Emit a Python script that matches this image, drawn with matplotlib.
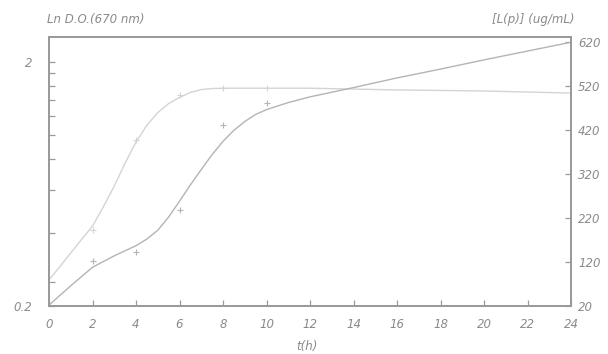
import matplotlib
matplotlib.use("Agg")
import matplotlib.pyplot as plt
from matplotlib.ticker import FixedLocator, NullFormatter

# growth curve (left axis, Ln D.O. at 670 nm, log scale)
od_t = [2, 4, 6, 8, 10]
od_pts = [0.41, 0.96, 1.46, 1.56, 1.56]
od_fit_t = [0, 0.5, 1, 1.5, 2, 2.5, 3, 3.5, 4, 4.5, 5, 5.5, 6, 6.5, 7, 7.5, 8,
            10, 12, 16, 20, 24]
od_fit = [0.256, 0.29, 0.33, 0.375, 0.425, 0.51, 0.62, 0.77, 0.94, 1.1, 1.24,
          1.35, 1.43, 1.50, 1.54, 1.555, 1.56, 1.56, 1.56, 1.535, 1.52, 1.49]

# product curve (right axis, ug/mL)
p_t = [2, 4, 6, 8, 10]
p_pts = [122, 142, 239, 432, 482]
p_fit_t = [0, 1, 2, 3, 4, 4.5, 5, 5.5, 6, 6.5, 7, 7.5, 8, 8.5, 9, 9.5, 10,
           11, 12, 14, 16, 18, 20, 22, 24]
p_fit = [22, 66, 108, 134, 157, 172, 192, 222, 258, 295, 330, 364, 394, 419,
         439, 455, 466, 482, 495, 516, 538, 558, 579, 599, 619]

x_ticks = list(range(0, 25, 2))
right_ticks = [20, 120, 220, 320, 420, 520, 620]
left_minor = [0.25, 0.4, 0.6, 0.8, 1.0, 1.2, 1.4, 1.6, 1.8]

gray = "#9a9a9a"
light = "#d4d4d4"
txt = "#8a8a8a"
font = dict(style="italic", color=txt, fontsize=8.5)

fig = plt.figure(figsize=(6.08, 3.54), dpi=100)
ax = fig.add_axes([0.0806, 0.1356, 0.8586, 0.76])
ax2 = ax.twinx()

ax.plot(od_fit_t, od_fit, color=light, lw=1.0)
ax.plot(od_t, od_pts, "+", color=light, ms=4, mew=0.8)
ax.set_yscale("log")
ax.set_ylim(0.2, 2.53)
ax.set_xlim(0, 24)
ax.yaxis.set_major_locator(FixedLocator([0.2, 2]))
ax.yaxis.set_minor_locator(FixedLocator(left_minor))
ax.yaxis.set_minor_formatter(NullFormatter())
ax.set_yticklabels(["0.2", "2"], **font)
ax.set_xticks(x_ticks)
ax.set_xticklabels([str(v) for v in x_ticks], **font)

ax2.plot(p_fit_t, p_fit, color="#b4b4b4", lw=1.0)
ax2.plot(p_t, p_pts, "+", color="#b4b4b4", ms=4, mew=0.8)
ax2.set_ylim(20, 631)
ax2.set_yticks(right_ticks)
ax2.set_yticklabels([str(v) for v in right_ticks], **font)

for a in (ax, ax2):
    for s in a.spines.values():
        s.set_color(gray)
        s.set_linewidth(1.3)
    a.tick_params(which="both", direction="in", colors=gray, length=4, width=0.9)
    a.tick_params(which="both", labelcolor=txt, pad=5)
ax.tick_params(axis="y", pad=12)
ax.tick_params(axis="x", pad=9)

fig.text(0.077, 0.935, "Ln D.O.(670 nm)", **font)
fig.text(0.945, 0.935, "[L(p)] (ug/mL)", ha="right", **font)
fig.text(0.505, 0.012, "t(h)", ha="center", **font)

fig.savefig("out.png", dpi=100)
